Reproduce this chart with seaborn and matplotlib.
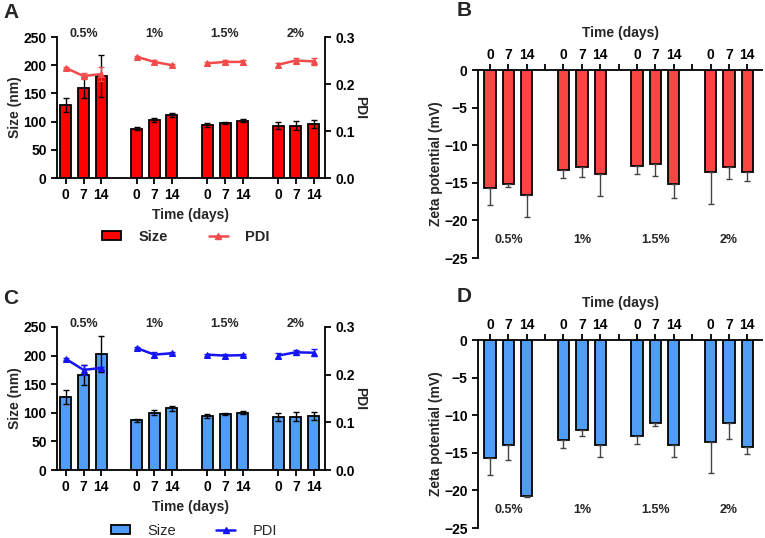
import numpy as np
import pandas as pd
import matplotlib
matplotlib.use("Agg")
import matplotlib.pyplot as plt
import matplotlib.transforms as mtransforms
from matplotlib.patches import Patch
from matplotlib.lines import Line2D
import seaborn as sns

# ── Style ─────────────────────────────────────────────────
sns.set_style("ticks")
plt.rcParams.update({
    "font.family":       ["Liberation Sans", "DejaVu Sans"],
    "font.weight":       "bold",
    "axes.labelweight":  "bold",
    "axes.linewidth":    1.3,
    "xtick.major.width": 1.3,
    "ytick.major.width": 1.3,
    "xtick.minor.width": 1.3,
    "xtick.major.size":  4,
    "ytick.major.size":  4,
    "xtick.labelsize":   10,
    "ytick.labelsize":   10,
    "axes.labelsize":    10,
    "xtick.color":       "black",
    "ytick.color":       "black",
    "axes.edgecolor":    "black",
})

# ── Data ──────────────────────────────────────────────────
DAYS  = ["0", "7", "14"]
CONCS = ["0.5%", "1%", "1.5%", "2%"]

# panel A (red)
size_a     = [129, 160, 181, 87.5, 102, 112, 94, 98, 101.5, 93, 93, 95]
size_a_err = [12, 19, 37, 3, 3.5, 3, 4, 2, 3, 7, 8, 7]
pdi_a      = [0.234, 0.217, 0.221, 0.258, 0.247, 0.240,
              0.244, 0.247, 0.247, 0.241, 0.250, 0.248]
pdi_a_err  = [0.003, 0.006, 0.015, 0.002, 0.005, 0.002,
              0.003, 0.005, 0.005, 0.004, 0.005, 0.008]

# panel C (blue)
size_c     = [127, 166, 203, 87, 100, 108, 94.5, 98, 100.5, 93.5, 93, 94.5]
size_c_err = [12, 17, 32, 3, 4.5, 4, 4, 2.5, 3, 7, 8, 7]
pdi_c      = [0.233, 0.210, 0.214, 0.256, 0.242, 0.245,
              0.242, 0.240, 0.241, 0.240, 0.247, 0.246]
pdi_c_err  = [0.002, 0.011, 0.003, 0.002, 0.005, 0.002,
              0.002, 0.004, 0.002, 0.005, 0.005, 0.007]

# panels B / D (zeta potential, lower error only)
zeta_b     = [-15.7, -15.1, -16.6, -13.3, -12.9, -13.8,
              -12.8, -12.5, -15.1, -13.6, -12.9, -13.5]
zeta_b_err = [2.3, 0.5, 3.0, 1.0, 1.3, 3.0, 1.0, 1.6, 1.9, 4.2, 1.6, 1.2]
zeta_d     = [-15.7, -13.9, -20.8, -13.3, -12.0, -13.9,
              -12.7, -11.0, -13.9, -13.6, -11.0, -14.2]
zeta_d_err = [2.3, 2.1, 0.1, 1.0, 0.7, 1.7, 1.1, 0.5, 1.6, 4.1, 2.1, 0.9]

# bar positions: 3 days per group, one empty slot between groups
POS   = [g * 4 + d for g in range(len(CONCS)) for d in range(len(DAYS))]
GROUP = [g for g in range(len(CONCS)) for d in range(len(DAYS))]

RED_BAR,  RED_LINE  = "#FF0000", "#F24B4B"
RED_Z               = "#F94444"
BLUE_BAR, BLUE_LINE = "#4F9DF4", "#1414F5"

W, H = 765, 538
fig = plt.figure(figsize=(W / 100, H / 100), dpi=100)


def rect(x0, y0, x1, y1):
    return [x0 / W, 1 - y1 / H, (x1 - x0) / W, (y1 - y0) / H]


def size_panel(r, size, size_err, pdi, pdi_err, bar_col, line_col, letter,
               letter_xy, leg_xy, leg_weight):
    ax = fig.add_axes(r)
    df = pd.DataFrame({"pos": POS, "size": size})
    sns.barplot(data=df, x="pos", y="size", native_scale=True, width=0.62,
                color=bar_col, saturation=1, edgecolor="black", linewidth=1.3,
                errorbar=None, ax=ax)
    ax.errorbar(POS, size, yerr=size_err, fmt="none", ecolor="black",
                elinewidth=1, capsize=2.5, capthick=1, zorder=3)
    ax.set_xlim(-0.5, 14.65)
    ax.set_ylim(0, 250)
    ax.set_yticks(range(0, 251, 50))
    ax.set_xticks(POS)
    ax.set_xticklabels(DAYS * len(CONCS))
    ax.set_xlabel("Time (days)", labelpad=4)
    ax.set_ylabel("Size (nm)", labelpad=1)
    ax.spines["top"].set_visible(False)
    ax.spines["right"].set_visible(False)

    trans = mtransforms.blended_transform_factory(ax.transData, ax.transAxes)
    for g, c in enumerate(CONCS):
        ax.text(g * 4 + 1, 1.0, c, transform=trans, ha="center",
                va="baseline", fontsize=9, fontweight="bold")

    ax2 = ax.twinx()
    dp = pd.DataFrame({"pos": POS, "pdi": pdi, "grp": GROUP})
    sns.lineplot(data=dp, x="pos", y="pdi", units="grp", estimator=None,
                 color=line_col, marker="^", markersize=5,
                 markeredgecolor=line_col, linewidth=1.8, legend=False, ax=ax2)
    ax2.errorbar(POS, pdi, yerr=pdi_err, fmt="none", ecolor=line_col,
                 elinewidth=1, capsize=2.5, capthick=1)
    ax2.set_ylim(0, 0.3)
    ax2.set_yticks([0, 0.1, 0.2, 0.3])
    ax2.set_yticklabels(["0.0", "0.1", "0.2", "0.3"])
    ax2.set_ylabel("PDI", rotation=270, labelpad=9)
    ax2.set_xlabel("")
    for s in ["top", "left", "bottom"]:
        ax2.spines[s].set_visible(False)

    fig.text(letter_xy[0] / W, 1 - letter_xy[1] / H, letter, fontsize=15,
             fontweight="bold", ha="left", va="center")

    handles = [Patch(facecolor=bar_col, edgecolor="black", linewidth=1.3,
                     label="Size"),
               Line2D([], [], color=line_col, marker="^", markersize=4,
                      lw=1.8, label="PDI")]
    ax.legend(handles=handles, loc="center",
              bbox_to_anchor=(leg_xy[0] / W, 1 - leg_xy[1] / H),
              bbox_transform=fig.transFigure, ncol=2, frameon=False,
              columnspacing=2.8, handlelength=1.3, handleheight=0.6,
              handletextpad=1.2, prop={"weight": leg_weight, "size": 10.5})


def zeta_panel(r, zeta, zeta_err, bar_col, letter, letter_xy):
    ax = fig.add_axes(r)
    df = pd.DataFrame({"pos": POS, "zeta": zeta})
    sns.barplot(data=df, x="pos", y="zeta", native_scale=True, width=0.62,
                color=bar_col, saturation=1, edgecolor="black", linewidth=1.3,
                errorbar=None, ax=ax)
    ax.errorbar(POS, zeta, yerr=[zeta_err, np.zeros(len(zeta))], fmt="none",
                ecolor="#444444", elinewidth=1, capsize=2.5, capthick=1,
                zorder=1)
    ax.set_xlim(-0.65, 14.8)
    ax.set_ylim(-25, 0)
    ax.set_yticks(range(-25, 1, 5))
    ax.xaxis.set_ticks_position("top")
    ax.xaxis.set_label_position("top")
    ax.set_xticks(POS)
    ax.set_xticklabels(DAYS * len(CONCS))
    ax.set_xticks([3, 7, 11], minor=True)
    ax.tick_params(axis="x", which="minor", length=4, width=1.3,
                   top=True, bottom=False)
    ax.tick_params(axis="x", which="major", pad=2)
    ax.set_xlabel("Time (days)", labelpad=8)
    ax.set_ylabel("Zeta potential (mV)", labelpad=1)
    ax.spines["bottom"].set_visible(False)
    ax.spines["right"].set_visible(False)
    ax.spines["top"].set_visible(True)
    for g, c in enumerate(CONCS):
        ax.text(g * 4 + 1, -22.6, c, ha="center", va="center",
                fontsize=9, fontweight="bold")
    fig.text(letter_xy[0] / W, 1 - letter_xy[1] / H, letter, fontsize=15,
             fontweight="bold", ha="left", va="center")


size_panel(rect(57, 37, 325, 178), size_a, size_a_err, pdi_a, pdi_a_err,
           RED_BAR, RED_LINE, "A", (3, 12), (186, 237), "bold")
size_panel(rect(57, 327, 325, 470), size_c, size_c_err, pdi_c, pdi_c_err,
           BLUE_BAR, BLUE_LINE, "C", (3, 298), (194, 531), "normal")
zeta_panel(rect(478, 70, 762, 258), zeta_b, zeta_b_err, RED_Z, "B", (457, 11))
zeta_panel(rect(478, 340, 762, 528), zeta_d, zeta_d_err, BLUE_BAR, "D",
           (457, 297))

fig.savefig("out.png", dpi=100, facecolor="white")
